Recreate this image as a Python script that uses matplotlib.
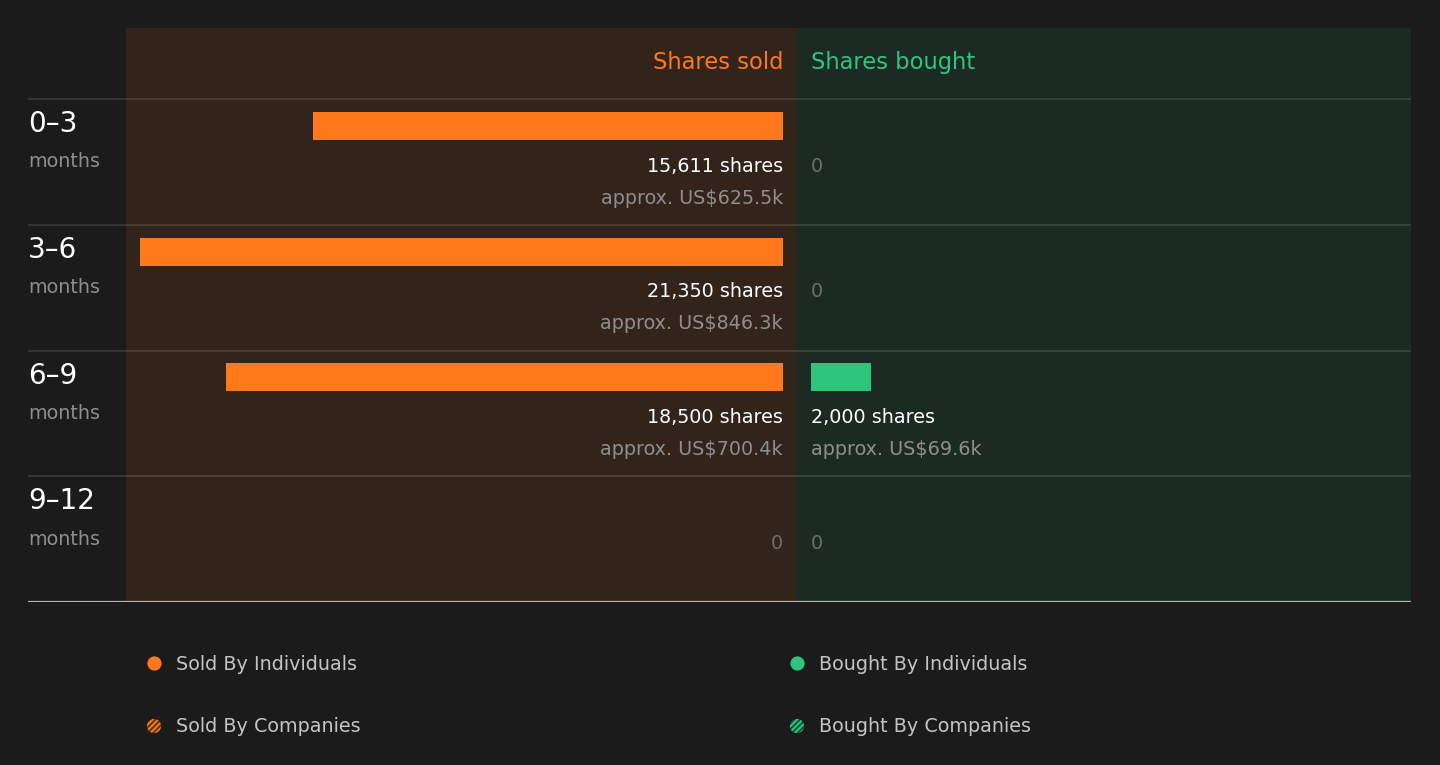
import matplotlib
matplotlib.use("Agg")
import matplotlib.pyplot as plt
import numpy as np

# ---- data ----
periods = ["0\u20133", "3\u20136", "6\u20139", "9\u201312"]
period_unit = "months"
sold_shares = [15611, 21350, 18500, 0]
sold_value_k = [625.5, 846.3, 700.4, 0]
bought_shares = [0, 0, 2000, 0]
bought_value_k = [0, 0, 69.6, 0]
header_sold = "Shares sold"
header_bought = "Shares bought"
legend_labels = ["Sold By Individuals", "Bought By Individuals",
                 "Sold By Companies", "Bought By Companies"]

# ---- style ----
BG = "#1b1b1b"
SOLD_BG = "#33241b"
BOUGHT_BG = "#1c2a24"
ORANGE = "#ff7819"
GREEN = "#2ec67d"
WHITE = "#ffffff"
GREY = "#8e8e8e"
ZERO_GREY = "#6e6e6e"
LEG_TXT = "#c4c4c4"

W, H = 1440, 765
plt.rcParams["font.family"] = ["DejaVu Sans"]
plt.rcParams["hatch.linewidth"] = 1.4

fig = plt.figure(figsize=(W / 100, H / 100), dpi=100, facecolor=BG)


def px_axes(x0, x1, y0, y1, **kw):
    return fig.add_axes([x0 / W, 1 - y1 / H, (x1 - x0) / W, (y1 - y0) / H], **kw)


TOP, BOT = 28, 602
ROW_PX = 125.75
HEADER = 71 / ROW_PX  # header height in row units
ylim = (4, -HEADER)
DY = 1.2 / ROW_PX  # small text nudge

# scale: px per share
max_len_px = 643.0
scale = max_len_px / max(max(sold_shares), max(bought_shares))
pad = 14

sold_ax = px_axes(126, 797, TOP, BOT)
sold_ax.set_facecolor(SOLD_BG)
sold_ax.set_xlim((783 - 126) / scale, -pad / scale)
sold_ax.set_ylim(*ylim)

buy_ax = px_axes(797, 1411, TOP, BOT)
buy_ax.set_facecolor(BOUGHT_BG)
buy_ax.set_xlim(-pad / scale, (1411 - 811) / scale)
buy_ax.set_ylim(*ylim)

rows = np.arange(len(periods))
BAR_OFF, BAR_H = 0.214, 0.222
TXT1, TXT2 = 0.524 + DY, 0.778 + DY
FS = 13.8

sold_ax.barh(rows + BAR_OFF, sold_shares, height=BAR_H, color=ORANGE, linewidth=0)
buy_ax.barh(rows + BAR_OFF, bought_shares, height=BAR_H, color=GREEN, linewidth=0)

for ax, shares, vals, ha in [(sold_ax, sold_shares, sold_value_k, "right"),
                             (buy_ax, bought_shares, bought_value_k, "left")]:
    for i, (s, v) in enumerate(zip(shares, vals)):
        if s > 0:
            ax.text(0, i + TXT1, f"{s:,} shares", color=WHITE, fontsize=FS,
                    ha=ha, va="center")
            ax.text(0, i + TXT2, f"approx. US${v:.1f}k", color=GREY, fontsize=FS,
                    ha=ha, va="center")
        else:
            ax.text(0, i + TXT1, "0", color=ZERO_GREY, fontsize=FS,
                    ha=ha, va="center")

hdr_y = -HEADER + (61 - TOP) / ROW_PX + DY
sold_ax.text(0, hdr_y, header_sold, color=ORANGE, fontsize=16.3, ha="right", va="center")
buy_ax.text(0, hdr_y, header_bought, color=GREEN, fontsize=16.3, ha="left", va="center")

for ax in (sold_ax, buy_ax):
    ax.set_xticks([])
    ax.set_yticks([])
    for sp in ax.spines.values():
        sp.set_visible(False)

# overlay axes for separators and row labels
ov = px_axes(28, 1411, TOP, BOT)
ov.set_facecolor("none")
ov.set_xlim(0, 1)
ov.set_ylim(*ylim)
ov.set_xticks([])
ov.set_yticks([])
for sp in ov.spines.values():
    sp.set_visible(False)
for i in rows:
    ov.axhline(i, color="#ffffff", alpha=0.13, linewidth=1.3)
ov.axhline(len(periods), color="#b4b4b4", linewidth=1.6)
for i, p in enumerate(periods):
    ov.text(0, i + 0.19 + DY, p, color=WHITE, fontsize=20, ha="left", va="center")
    ov.text(0, i + 0.49 + DY, period_unit, color=GREY, fontsize=FS, ha="left", va="center")

# legend
lg = px_axes(0, W, 0, H)
lg.set_facecolor("none")
lg.set_xlim(0, W)
lg.set_ylim(H, 0)
lg.axis("off")
legend_pos = [(154, 663), (797, 663), (154, 726), (797, 726)]
legend_cols = [ORANGE, GREEN, ORANGE, GREEN]
legend_dark = ["#5e3415", "#15523a"]
for k, ((x, y), lab, col) in enumerate(zip(legend_pos, legend_labels, legend_cols)):
    if k < 2:
        lg.scatter([x], [y], s=105, color=col, linewidth=0)
    else:
        lg.scatter([x], [y], s=105, facecolor=legend_dark[k - 2], edgecolor=col,
                   hatch="//////", linewidth=0)
    lg.text(x + 22, y + 1, lab, color=LEG_TXT, fontsize=FS, ha="left", va="center")

fig.savefig("out.png", dpi=100, facecolor=BG)
